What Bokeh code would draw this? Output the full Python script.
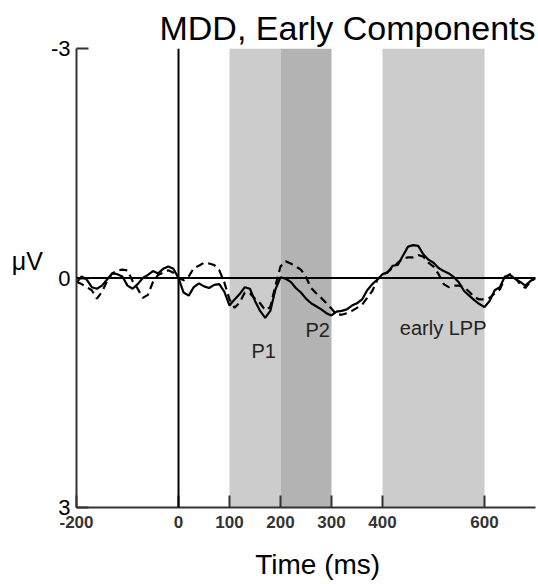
from bokeh.plotting import figure
from bokeh.models import Range1d, FixedTicker, Span, Label, Title
from bokeh.embed import file_html
from bokeh.resources import INLINE

# ---- data ----
times = [-200, -190, -180, -170, -160, -150, -140, -130, -120, -110,
         -100, -90, -80, -70, -60, -50, -40, -30, -20, -10,
         0, 10, 20, 30, 40, 50, 60, 70, 80, 90,
         100, 110, 120, 130, 140, 150, 160, 170, 180, 190,
         200, 210, 220, 230, 240, 250, 260, 270, 280, 290,
         300, 310, 320, 330, 340, 350, 360, 370, 380, 390,
         400, 410, 420, 430, 440, 450, 460, 470, 480, 490,
         500, 510, 520, 530, 540, 550, 560, 570, 580, 590,
         600, 610, 620, 630, 640, 650, 660, 670, 680, 690, 700]

solid = [0.06, -0.02, 0.02, 0.12, 0.14, 0.10, 0.02, -0.06, -0.05, -0.02,
         0.10, 0.14, 0.08, 0.00, -0.04, -0.09, -0.06, -0.12, -0.15, -0.12,
         0.00, 0.19, 0.23, 0.12, 0.07, 0.11, 0.13, 0.09, 0.08, 0.18,
         0.36, 0.28, 0.21, 0.12, 0.14, 0.30, 0.43, 0.52, 0.43, 0.15,
         -0.01, 0.01, 0.05, 0.13, 0.19, 0.27, 0.33, 0.37, 0.41, 0.46,
         0.49, 0.44, 0.43, 0.41, 0.36, 0.33, 0.28, 0.16, 0.08, 0.02,
         -0.05, -0.07, -0.16, -0.17, -0.29, -0.41, -0.43, -0.42, -0.31, -0.24,
         -0.20, -0.13, -0.09, -0.06, -0.01, 0.06, 0.17, 0.23, 0.29, 0.34,
         0.38, 0.30, 0.16, 0.12, -0.02, -0.04, 0.01, 0.05, 0.10, 0.04, 0.00]

dashed = [0.05, 0.08, 0.12, 0.16, 0.27, 0.18, 0.04, -0.06, -0.10, -0.11,
          -0.10, 0.04, 0.14, 0.26, 0.22, 0.05, -0.04, -0.07, -0.10, -0.07,
          0.00, 0.03, -0.02, -0.13, -0.16, -0.20, -0.19, -0.17, -0.10, 0.06,
          0.28, 0.39, 0.32, 0.19, 0.20, 0.27, 0.33, 0.42, 0.38, 0.10,
          -0.15, -0.22, -0.19, -0.15, -0.11, -0.01, 0.13, 0.20, 0.26, 0.33,
          0.40, 0.48, 0.48, 0.46, 0.43, 0.39, 0.35, 0.26, 0.17, 0.02,
          -0.04, -0.08, -0.13, -0.20, -0.25, -0.27, -0.27, -0.30, -0.28, -0.20,
          -0.15, -0.05, 0.08, 0.12, 0.10, 0.10, 0.12, 0.18, 0.25, 0.28,
          0.28, 0.26, 0.20, 0.15, 0.00, -0.05, 0.00, 0.08, 0.13, 0.05, 0.00]

win_start = [100, 200, 400]
win_end = [200, 300, 600]
win_colors = ["#cccccc", "#b3b3b3", "#cccccc"]

x_ticks = [-200, 0, 100, 200, 300, 400, 600]
y_ticks = [-3, 0, 3]

comp_labels = ["P1", "P2", "early LPP"]
comp_x = [167, 273, 519]
comp_y = [0.95, 0.68, 0.65]

FONT = "Liberation Sans"

p = figure(width=538, height=584, output_backend="svg", toolbar_location=None,
           x_range=Range1d(-200, 700), y_range=Range1d(3, -3),
           min_border_left=76, min_border_right=3, min_border_top=48,
           min_border_bottom=77)
p.xgrid.visible = False
p.ygrid.visible = False
p.outline_line_color = None
p.background_fill_color = "white"
p.border_fill_color = "white"

p.add_layout(Title(text="MDD, Early Components", align="right", vertical_align="top",
                   text_font=FONT, text_font_size="34px", text_font_style="normal",
                   text_color="black", standoff=0), "above")

p.quad(left=win_start, right=win_end, bottom=3, top=-3,
       fill_color=win_colors, line_color=None)

p.add_layout(Span(location=0, dimension="width", line_color="black", line_width=2))
p.add_layout(Span(location=0, dimension="height", line_color="black", line_width=2))

p.line(times, dashed, line_color="black", line_width=2.2, line_dash="8 5")
p.line(times, solid, line_color="black", line_width=2.2)

for ax in (p.xaxis[0], p.yaxis[0]):
    ax.axis_line_width = 2
    ax.axis_line_color = "#333333"
    ax.major_tick_line_width = 2
    ax.major_tick_line_color = "#333333"
    ax.major_tick_in = 12
    ax.major_tick_out = 0
    ax.minor_tick_line_color = None

p.xaxis.ticker = FixedTicker(ticks=x_ticks)
p.xaxis.major_label_overrides = {t: str(t) for t in x_ticks}
p.xaxis.major_label_text_font = FONT
p.xaxis.major_label_text_font_size = "17px"
p.xaxis.major_label_text_font_style = "bold"
p.xaxis.major_label_text_color = "#333333"
p.xaxis.major_label_standoff = 8
p.xaxis.axis_label = "\u00a0\u00a0\u00a0Time (ms)"
p.xaxis.axis_label_text_font = FONT
p.xaxis.axis_label_text_font_size = "28px"
p.xaxis.axis_label_text_font_style = "normal"
p.xaxis.axis_label_text_color = "black"
p.xaxis.axis_label_standoff = 18

p.yaxis.ticker = FixedTicker(ticks=y_ticks)
p.yaxis.major_label_overrides = {t: str(t) for t in y_ticks}
p.yaxis.major_label_text_font = FONT
p.yaxis.major_label_text_font_size = "22px"
p.yaxis.major_label_text_color = "black"
p.yaxis.major_label_standoff = 6
p.yaxis.axis_label = "\u03bcV\n\u00a0"
p.yaxis.axis_label_orientation = "horizontal"
p.yaxis.axis_label_text_font = FONT
p.yaxis.axis_label_text_font_size = "25px"
p.yaxis.axis_label_text_font_style = "normal"
p.yaxis.axis_label_text_color = "black"
p.yaxis.axis_label_standoff = 5

for t, x, y in zip(comp_labels, comp_x, comp_y):
    p.add_layout(Label(x=x, y=y, text=t, text_align="center", text_baseline="middle",
                       text_font=FONT, text_font_size="20px", text_color="#222222"))

open("out.html", "w").write(file_html(p, INLINE))
